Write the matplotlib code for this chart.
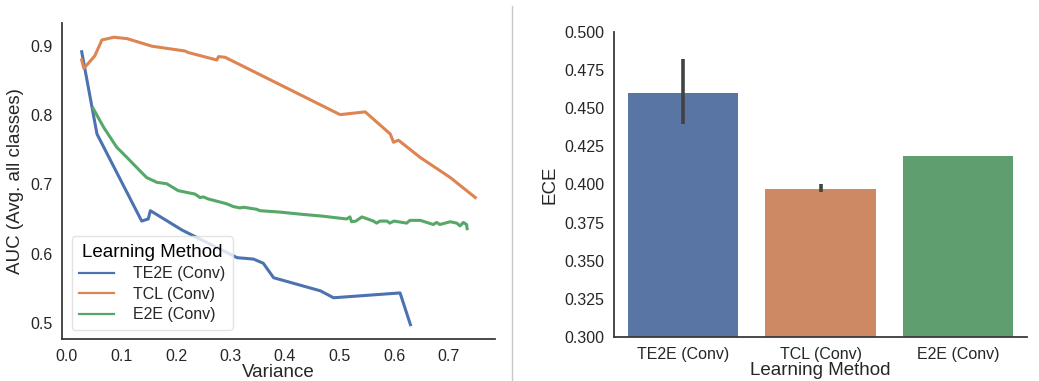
import matplotlib
matplotlib.use("Agg")
import matplotlib.pyplot as plt
from matplotlib.lines import Line2D

plt.rcParams['font.family'] = ['Liberation Sans', 'DejaVu Sans']

methods = ["TE2E (Conv)", "TCL (Conv)", "E2E (Conv)"]
line_colors = ["#4c72b0", "#dd8452", "#55a868"]
bar_colors = ["#5875a4", "#cc8963", "#5f9e6e"]

# AUC vs variance curves
te2e_x = [0.027, 0.055, 0.137, 0.149, 0.153, 0.211, 0.312, 0.342, 0.360, 0.379,
          0.465, 0.489, 0.611, 0.630]
te2e_y = [0.892, 0.773, 0.647, 0.650, 0.662, 0.634, 0.594, 0.592, 0.586, 0.565,
          0.546, 0.536, 0.543, 0.497]

tcl_x = [0.027, 0.031, 0.051, 0.064, 0.086, 0.110, 0.156, 0.217, 0.222, 0.275,
         0.278, 0.290, 0.501, 0.547, 0.593, 0.599, 0.608, 0.648, 0.703, 0.749]
tcl_y = [0.880, 0.868, 0.886, 0.909, 0.913, 0.911, 0.900, 0.893, 0.891, 0.880,
         0.885, 0.884, 0.801, 0.805, 0.773, 0.761, 0.764, 0.739, 0.710, 0.681]

e2e_x = [0.048, 0.067, 0.091, 0.110, 0.131, 0.146, 0.165, 0.183, 0.204, 0.235,
         0.244, 0.250, 0.259, 0.293, 0.305, 0.317, 0.324, 0.348, 0.354, 0.390,
         0.428, 0.470, 0.513, 0.519, 0.522, 0.530, 0.541, 0.562, 0.568, 0.574,
         0.587, 0.592, 0.600, 0.623, 0.629, 0.648, 0.672, 0.678, 0.684, 0.703,
         0.715, 0.721, 0.727, 0.733, 0.734]
e2e_y = [0.810, 0.783, 0.754, 0.739, 0.722, 0.710, 0.703, 0.701, 0.691, 0.686,
         0.681, 0.682, 0.679, 0.672, 0.668, 0.666, 0.667, 0.664, 0.662, 0.660,
         0.657, 0.654, 0.650, 0.653, 0.646, 0.647, 0.653, 0.647, 0.644, 0.647,
         0.647, 0.644, 0.647, 0.644, 0.648, 0.648, 0.642, 0.645, 0.642, 0.646,
         0.644, 0.640, 0.645, 0.642, 0.636]

# ECE per method, with interval
ece_mean = [0.460, 0.397, 0.419]
ece_low = [0.440, 0.395, 0.419]
ece_high = [0.482, 0.400, 0.419]

fig = plt.figure(figsize=(10.39, 3.81), dpi=100)
ax1 = fig.add_axes([0.0597, 0.110, 0.4167, 0.830])
ax2 = fig.add_axes([0.591, 0.1155, 0.3975, 0.8005])

spine_col = "#3a3a3a"
for ax in (ax1, ax2):
    for s in ("top", "right"):
        ax.spines[s].set_visible(False)
    for s in ("left", "bottom"):
        ax.spines[s].set_color(spine_col)
        ax.spines[s].set_linewidth(1.3)
    ax.tick_params(length=0, labelsize=11.5, colors="#262626", pad=7)

ax1.plot(te2e_x, te2e_y, color=line_colors[0], lw=2.2)
ax1.plot(tcl_x, tcl_y, color=line_colors[1], lw=2.2)
ax1.plot(e2e_x, e2e_y, color=line_colors[2], lw=2.2)
ax1.set_xticks([0.0, 0.1, 0.2, 0.3, 0.4, 0.5, 0.6, 0.7])
ax1.set_yticks([0.5, 0.6, 0.7, 0.8, 0.9])
ax1.set_xlabel("Variance", fontsize=13.5, color="#262626", labelpad=0)
ax1.set_ylabel("AUC (Avg. all classes)", fontsize=13.5, color="#262626", labelpad=4)

handles = [Line2D([], [], color=c, lw=1.6) for c in line_colors]
leg = ax1.legend(handles, methods, title="Learning Method", loc="lower left",
                 fontsize=11.5, title_fontsize=13.5, handletextpad=1.2,
                 handlelength=2.2, frameon=True, borderaxespad=0.6,
                 labelspacing=0.35, borderpad=0.45)
leg.get_frame().set_edgecolor("#dddddd")
for t in leg.get_texts():
    t.set_color("#262626")

pos = list(range(len(methods)))
ax2.bar(pos, ece_mean, width=0.8, color=bar_colors)
for p, lo, hi in zip(pos, ece_low, ece_high):
    ax2.plot([p, p], [lo, hi], color="#424242", lw=2.6, solid_capstyle="butt")
ax2.set_xlim(-0.5, 2.5)
ax2.set_ylim(0.3, 0.5)
ax2.set_xticks(pos)
ax2.set_xticklabels(methods)
ax2.set_yticks([0.300, 0.325, 0.350, 0.375, 0.400, 0.425, 0.450, 0.475, 0.500])
ax2.set_yticklabels(["%.3f" % v for v in ax2.get_yticks()])
ax2.set_xlabel("Learning Method", fontsize=13.5, color="#262626", labelpad=0)
ax2.set_ylabel("ECE", fontsize=13.5, color="#262626", labelpad=4)

fig.add_artist(Line2D([511.5 / 1039, 511.5 / 1039], [0, 1 - 6 / 381],
                      color="#c8c8c8", lw=1))

fig.savefig("out.png", dpi=100)
